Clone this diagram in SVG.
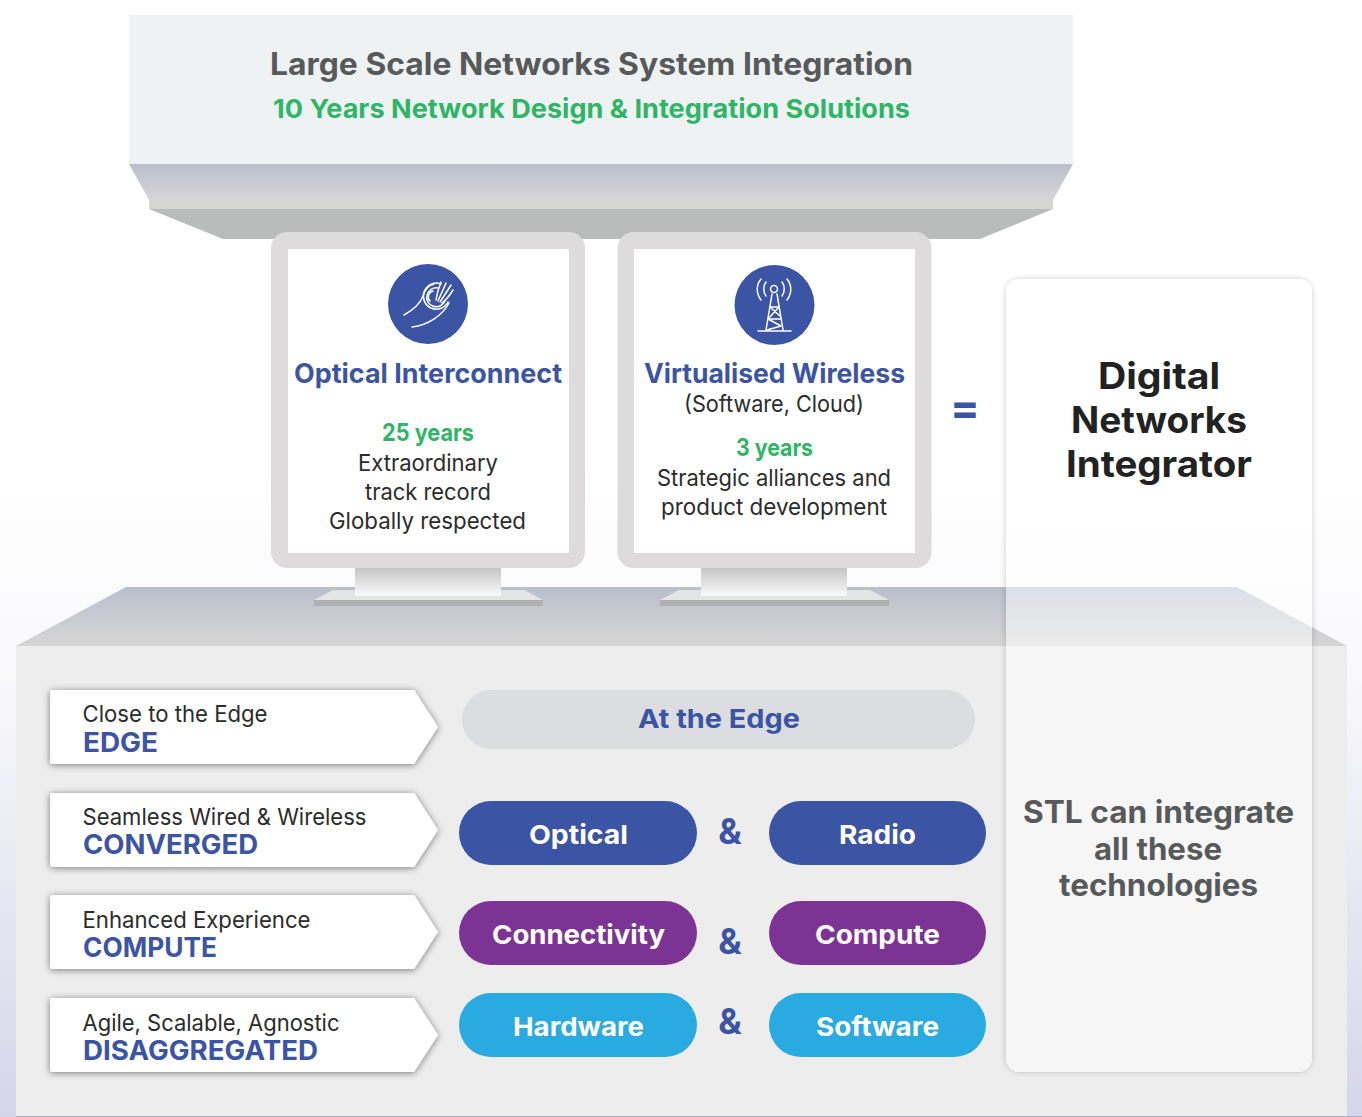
<svg xmlns="http://www.w3.org/2000/svg" width="1362" height="1117" viewBox="0 0 1362 1117">
<style>
text{font-family:"Inter","Liberation Sans",sans-serif}
.b{font-weight:700}
.blue{fill:#3b54a4}
.green{fill:#2eb566;font-weight:700}
.body{fill:#2b2b2b;font-size:23px}
.gray{fill:#58595b;font-weight:700}
.dark{fill:#222;font-weight:700;font-size:37px}
.lab{fill:#2b2b2b;font-size:23px}
.cap{fill:#3b54a4;font-weight:700;font-size:27px}
.pill{fill:#fff;font-weight:700;font-size:26px}
.amp{fill:#3b54a4;font-weight:700;font-size:35px}
.frame{fill:#dddbdc}
.ic{fill:none;stroke:#fff;stroke-width:1.5;stroke-linecap:round;stroke-linejoin:round}
</style>
<defs>
<linearGradient id="bg" x1="0" y1="0" x2="0" y2="1"><stop offset="0.42" stop-color="#fff"/><stop offset="0.6" stop-color="#f9f9fc"/><stop offset="1" stop-color="#d5d5e9"/></linearGradient>
<linearGradient id="top" x1="0" y1="0" x2="0" y2="1"><stop offset="0" stop-color="#b9bfcc"/><stop offset="1" stop-color="#d7d6d6"/></linearGradient>
<linearGradient id="stand" x1="0" y1="0" x2="0" y2="1"><stop offset="0" stop-color="#c6c6c6"/><stop offset="1" stop-color="#fafafa"/></linearGradient>
<filter id="sh" x="-10%" y="-20%" width="120%" height="140%"><feGaussianBlur in="SourceAlpha" stdDeviation="3.500"/><feOffset dy="1"/><feComponentTransfer><feFuncA type="linear" slope="0.5"/></feComponentTransfer><feMerge><feMergeNode/><feMergeNode in="SourceGraphic"/></feMerge></filter>
<filter id="panel" x="-5%" y="-5%" width="110%" height="110%"><feGaussianBlur in="SourceAlpha" stdDeviation="3"/><feComponentTransfer result="s"><feFuncA type="linear" slope="0.4"/></feComponentTransfer><feComponentTransfer in="SourceAlpha" result="m"><feFuncA type="linear" slope="100"/></feComponentTransfer><feComposite in="s" in2="m" operator="out" result="o"/><feMerge><feMergeNode in="o"/><feMergeNode in="SourceGraphic"/></feMerge></filter>
</defs>
<rect width="1362" height="1117" fill="url(#bg)"/>

<g id="banner">
<rect x="129" y="15" width="944" height="149" fill="#eef2f3"/>
<path d="M129 164H1073L1053 200H149Z" fill="url(#top)"/>
<rect x="149" y="200" width="904" height="9" fill="#d5d5d1"/>
<path d="M149 209H1053L980 239H223Z" fill="#babcbb"/>
<text class="gray" x="270" y="74.500" font-size="31" textLength="643" lengthAdjust="spacingAndGlyphs">Large Scale Networks System Integration</text>
<text class="green" x="273" y="118" font-size="26" textLength="637" lengthAdjust="spacingAndGlyphs">10 Years Network Design &amp; Integration Solutions</text>
</g>

<g id="platform">
<rect x="16" y="646" width="1331" height="470" fill="#ededed"/>
<rect x="16" y="1116" width="1346" height="1" fill="#aeadc6"/>
<path d="M126 587H1237L1347 646H16Z" fill="url(#top)"/>
</g>

<g id="monitor-optical">
<path d="M333 590H524L543 600H314Z" fill="#e4e6e6"/>
<rect x="355" y="568" width="146" height="28" fill="url(#stand)"/>
<rect x="314" y="600" width="229" height="6" fill="#b0b0b0"/>
<rect x="271" y="232" width="314" height="336" rx="16" class="frame"/>
<rect x="288" y="249" width="281" height="304" fill="#fff"/>
<circle cx="428" cy="304" r="40" fill="#3b54a4"/>
<g class="ic">
<path d="M404 315C413 310 420 304 423 296C425 289 429 285 434 284"/>
<path d="M412 327C428 325 442 316 449 303"/>
<path d="M441 284A13 13 0 1 0 448 302"/>
<path d="M438 288A9.500 9.500 0 1 0 445 301"/>
<path d="M430 301A6 6 0 0 1 433 291"/>
<path d="M436 300C437 293 439 287 441 282M438 301C441 294 444 288 446 283M440 302C444 296 448 290 451 285M442 303C446 300 450 295 453 290"/>
</g>
<text class="b blue" x="294" y="383" font-size="27" textLength="268" lengthAdjust="spacingAndGlyphs">Optical Interconnect</text>
<text class="green" x="382" y="441" font-size="24" textLength="92" lengthAdjust="spacingAndGlyphs">25 years</text>
<text class="body" x="358" y="470.500" textLength="140" lengthAdjust="spacingAndGlyphs">Extraordinary</text>
<text class="body" x="365" y="499.500" textLength="126" lengthAdjust="spacingAndGlyphs">track record</text>
<text class="body" x="329" y="528.500" textLength="197" lengthAdjust="spacingAndGlyphs">Globally respected</text>
</g>

<g id="monitor-wireless">
<path d="M679 590H870L889 600H660Z" fill="#e4e6e6"/>
<rect x="701" y="568" width="146" height="28" fill="url(#stand)"/>
<rect x="660" y="600" width="229" height="6" fill="#b0b0b0"/>
<rect x="617.500" y="232" width="314" height="336" rx="16" class="frame"/>
<rect x="634" y="249" width="281" height="304" fill="#fff"/>
<circle cx="774.500" cy="305" r="40" fill="#3b54a4"/>
<g class="ic">
<circle cx="774" cy="289" r="3.500"/>
<path d="M772 294L766 330M777 294L783 330M758 331H791"/>
<path d="M770 307H779L768 319L781 326L767 330M768 319H781M770 307L780 316"/>
<path d="M766 282C763 286 763 292 766 296M782 282C785 286 785 292 782 296M761 279C756 285 756 293 761 300M787 279C792 285 792 293 787 300"/>
</g>
<text class="b blue" x="644" y="383" font-size="27" textLength="261" lengthAdjust="spacingAndGlyphs">Virtualised Wireless</text>
<text class="body" x="684" y="411.500" textLength="180" lengthAdjust="spacingAndGlyphs">(Software, Cloud)</text>
<text class="green" x="736" y="456" font-size="24" textLength="77" lengthAdjust="spacingAndGlyphs">3 years</text>
<text class="body" x="657" y="485.500" textLength="234" lengthAdjust="spacingAndGlyphs">Strategic alliances and</text>
<text class="body" x="661" y="514.500" textLength="226" lengthAdjust="spacingAndGlyphs">product development</text>
</g>

<g id="equals"><text class="b blue" x="965" y="423" font-size="44" text-anchor="middle">=</text></g>

<g id="label-edge">
<path d="M53 690H414L438 727L414 764H53Q50 764 50 761V693Q50 690 53 690Z" fill="#fff" filter="url(#sh)"/>
<text class="lab" x="82.500" y="721.500" textLength="185" lengthAdjust="spacingAndGlyphs">Close to the Edge</text>
<text class="cap" x="83" y="752" textLength="75" lengthAdjust="spacingAndGlyphs">EDGE</text>
</g>
<g id="label-converged">
<path d="M53 793H414L438 830L414 867H53Q50 867 50 864V796Q50 793 53 793Z" fill="#fff" filter="url(#sh)"/>
<text class="lab" x="82.500" y="824.500" textLength="284" lengthAdjust="spacingAndGlyphs">Seamless Wired &amp; Wireless</text>
<text class="cap" x="83" y="854" textLength="175" lengthAdjust="spacingAndGlyphs">CONVERGED</text>
</g>
<g id="label-compute">
<path d="M53 895H414L438 932L414 969H53Q50 969 50 966V898Q50 895 53 895Z" fill="#fff" filter="url(#sh)"/>
<text class="lab" x="82.500" y="927.500" textLength="228" lengthAdjust="spacingAndGlyphs">Enhanced Experience</text>
<text class="cap" x="83" y="957" textLength="134" lengthAdjust="spacingAndGlyphs">COMPUTE</text>
</g>
<g id="label-disaggregated">
<path d="M53 998H414L438 1035L414 1072H53Q50 1072 50 1069V1001Q50 998 53 998Z" fill="#fff" filter="url(#sh)"/>
<text class="lab" x="82.500" y="1030.500" textLength="257" lengthAdjust="spacingAndGlyphs">Agile, Scalable, Agnostic</text>
<text class="cap" x="83" y="1060" textLength="235" lengthAdjust="spacingAndGlyphs">DISAGGREGATED</text>
</g>

<g id="pill-at-edge"><rect x="462" y="690" width="513" height="59" rx="29.500" fill="#dcdde0"/><text class="cap" x="638" y="727.500" style="font-size:26px" textLength="162" lengthAdjust="spacingAndGlyphs">At the Edge</text></g>
<g id="pill-optical"><rect x="459" y="801" width="238" height="64" rx="32" fill="#3b54a4"/><text class="pill" x="529" y="844" textLength="99" lengthAdjust="spacingAndGlyphs">Optical</text></g>
<g id="pill-radio"><rect x="769" y="801" width="217" height="64" rx="32" fill="#3b54a4"/><text class="pill" x="839" y="844" textLength="77" lengthAdjust="spacingAndGlyphs">Radio</text></g>
<g id="pill-connectivity"><rect x="459" y="901" width="238" height="64" rx="32" fill="#7c3494"/><text class="pill" x="492" y="944" textLength="173" lengthAdjust="spacingAndGlyphs">Connectivity</text></g>
<g id="pill-compute"><rect x="769" y="901" width="217" height="64" rx="32" fill="#7c3494"/><text class="pill" x="815" y="944" textLength="125" lengthAdjust="spacingAndGlyphs">Compute</text></g>
<g id="pill-hardware"><rect x="459" y="993" width="238" height="64" rx="32" fill="#29abe2"/><text class="pill" x="513" y="1036" textLength="131" lengthAdjust="spacingAndGlyphs">Hardware</text></g>
<g id="pill-software"><rect x="769" y="993" width="217" height="64" rx="32" fill="#29abe2"/><text class="pill" x="816" y="1036" textLength="123" lengthAdjust="spacingAndGlyphs">Software</text></g>

<g id="amps">
<text class="amp" x="730" y="844" text-anchor="middle">&amp;</text>
<text class="amp" x="730" y="954" text-anchor="middle">&amp;</text>
<text class="amp" x="730" y="1034" text-anchor="middle">&amp;</text>
</g>

<g id="integrator">
<rect x="1006" y="279" width="306" height="793" rx="14" fill="#fff" fill-opacity="0.5" filter="url(#panel)"/>
<text class="dark" x="1098" y="389" textLength="122" lengthAdjust="spacingAndGlyphs">Digital</text>
<text class="dark" x="1071" y="433" textLength="176" lengthAdjust="spacingAndGlyphs">Networks</text>
<text class="dark" x="1066" y="477" textLength="186" lengthAdjust="spacingAndGlyphs">Integrator</text>
<text class="gray" x="1023" y="822.500" font-size="31" textLength="271" lengthAdjust="spacingAndGlyphs">STL can integrate</text>
<text class="gray" x="1094" y="859.500" font-size="31" textLength="128" lengthAdjust="spacingAndGlyphs">all these</text>
<text class="gray" x="1059" y="895.500" font-size="31" textLength="199" lengthAdjust="spacingAndGlyphs">technologies</text>
</g>
</svg>
